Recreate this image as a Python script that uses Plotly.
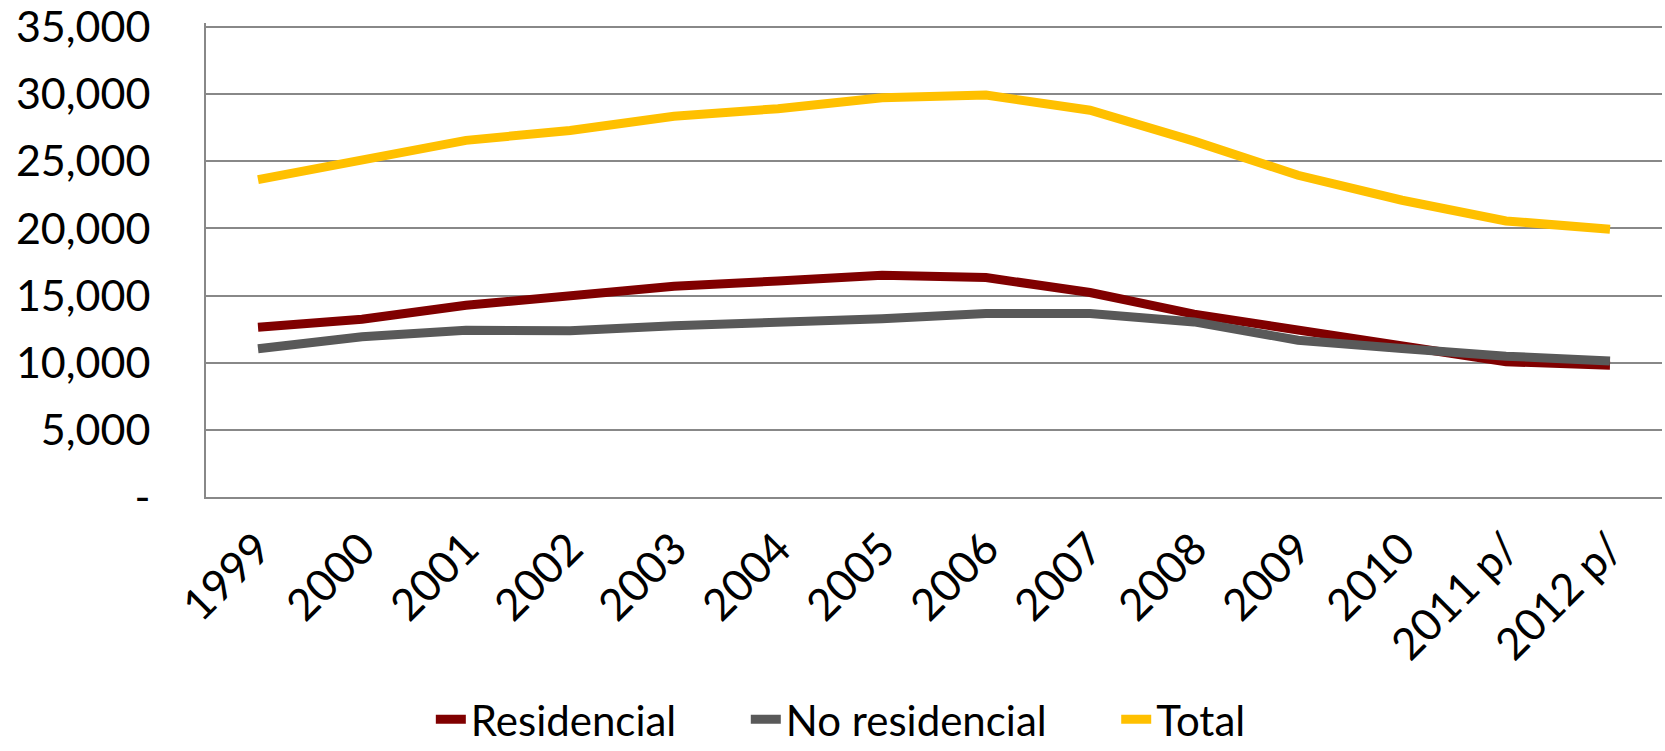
import plotly.graph_objects as go

years = ["1999", "2000", "2001", "2002", "2003", "2004", "2005", "2006",
         "2007", "2008", "2009", "2010", "2011 p/", "2012 p/"]
residencial = [12650, 13240, 14280, 15030, 15700, 16090, 16520, 16340,
               15230, 13620, 12430, 11180, 10070, 9820]
no_residencial = [11040, 11930, 12420, 12380, 12750, 12970, 13270, 13660,
                  13660, 13040, 11680, 11060, 10490, 10120]
total = [23640, 25070, 26560, 27300, 28350, 28920, 29740, 29930,
         28800, 26500, 23960, 22100, 20560, 19940]

y_ticks = [0, 5000, 10000, 15000, 20000, 25000, 30000, 35000]
y_ticktext = ["-", "5,000", "10,000", "15,000", "20,000", "25,000", "30,000", "35,000"]

FONT = "Lato, 'DejaVu Sans', sans-serif"
PAD = "\u00a0" * 6

fig = go.Figure()
series = [("Residencial", residencial, "#800000"),
          ("No residencial", no_residencial, "#595959"),
          ("Total", total, "#FFC000")]
for i, (name, vals, color) in enumerate(series):
    label = name + (PAD if i < len(series) - 1 else "")
    fig.add_trace(go.Scatter(x=years, y=vals, name=label, mode="lines",
                             line=dict(color=color, width=9)))

fig.update_layout(
    width=1665, height=751,
    margin=dict(l=206, r=3, t=23, b=254),
    paper_bgcolor="white", plot_bgcolor="white",
    font=dict(family=FONT, size=40, color="black"),
    showlegend=True,
    legend=dict(orientation="h", xref="container", yref="container",
                x=0.505, xanchor="center", y=0.042, yanchor="middle",
                font=dict(size=42), traceorder="normal",
                tracegroupgap=0),
    xaxis=dict(type="category", range=[-0.5, 13.5], tickangle=-45,
               showgrid=False, automargin=False,
               showline=True, linecolor="#888888", linewidth=2,
               ticks="", tickfont=dict(size=44), ticklabelstandoff=6),
    yaxis=dict(range=[0, 35300], tickvals=y_ticks, ticktext=y_ticktext,
               showgrid=True, gridcolor="#888888", gridwidth=2,
               showline=True, linecolor="#888888", linewidth=2,
               zeroline=False, ticks="", automargin=False,
               ticklabeloverflow="allow",
               tickfont=dict(size=43), ticklabelstandoff=45),
)

fig.write_html("out.html",
               config={"displayModeBar": False},
               post_script="document.body.style.margin='0';document.body.style.overflow='hidden';")
